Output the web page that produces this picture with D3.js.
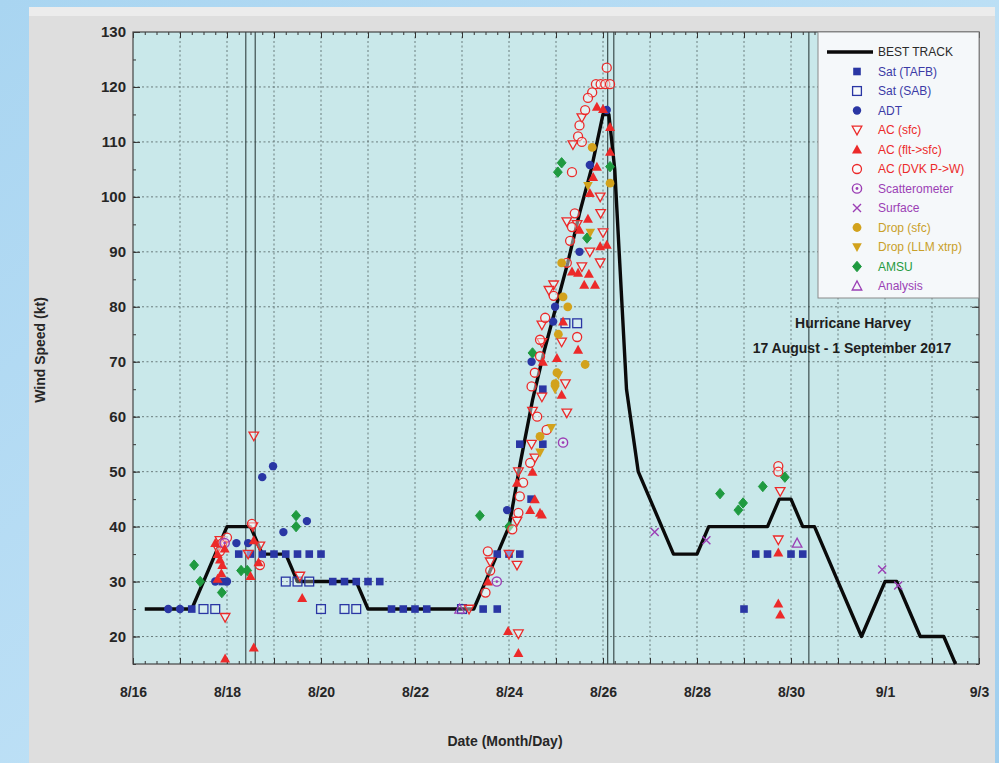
<!DOCTYPE html>
<html><head><meta charset="utf-8">
<script src="https://cdn.jsdelivr.net/npm/d3@7/dist/d3.min.js"></script>
<style>
body{margin:0;background:#fff;}
svg{display:block}
text{font-family:"Liberation Sans",Arial,sans-serif;}
</style></head><body>
<svg id="c" width="999" height="763"></svg>
<script>
// ---------------- DATA ----------------
// x values are days after 16 Aug 2017 00 UTC
const xTickDays   = [0,2,4,6,8,10,12,14,16,18];
const xTickLabels = ["8/16","8/18","8/20","8/22","8/24","8/26","8/28","8/30","9/1","9/3"];
const yTickValues = [20,30,40,50,60,70,80,90,100,110,120,130];

const btDay = [0.25,0.5,0.75,1.0,1.25,1.5,1.75,2.0,2.25,2.5,2.75,3.0,3.25,3.5,3.75,4.0,4.25,4.5,4.75,5.0,
  5.25,5.5,5.75,6.0,6.25,6.5,6.75,7.0,7.25,7.5,7.75,8.0,8.25,8.5,8.75,9.0,9.25,9.5,9.75,10.0,10.125,10.25,
  10.5,10.75,11.0,11.25,11.5,11.75,12.0,12.25,12.5,12.75,13.0,13.25,13.5,13.75,14.0,14.25,14.5,14.75,15.0,
  15.25,15.5,15.75,16.0,16.25,16.5,16.75,17.0,17.25,17.5];
const btKt  = [25,25,25,25,25,30,35,40,40,40,35,35,35,30,30,30,30,30,30,25,
  25,25,25,25,25,25,25,25,25,30,35,40,52,63,72,80,88,97,105,115,115,105,
  65,50,45,40,35,35,35,40,40,40,40,40,40,45,45,40,40,35,30,
  25,20,25,30,30,25,20,20,20,15];

const landfallDays = [2.4,2.6,10.1,10.23,14.38];

const satTAFB = [[1.25,25],[1.9,30],[2.25,35],[2.5,35],[2.75,35],[3.0,35],[3.25,35],[3.5,35],[3.75,35],[4.0,35],
  [4.25,30],[4.5,30],[4.75,30],[5.0,30],[5.25,30],[5.5,25],[5.75,25],[6.0,25],[6.25,25],[7.45,25],[7.75,25],
  [7.75,35],[8.0,35],[8.23,35],[8.47,45],[8.23,55],[8.72,55],[8.72,65],[13.0,25],[13.25,35],[13.5,35],[14.0,35],[14.25,35]];
const satSAB = [[1.5,25],[1.75,25],[3.25,30],[3.5,30],[3.75,30],[4.0,25],[4.5,25],[4.75,25],[7.0,25],[9.2,77],[9.45,77]];
const adt = [[0.75,25],[1.0,25],[1.75,30],[2.0,30],[2.2,37],[2.45,37],[2.75,49],[2.98,51],[3.2,39],[3.7,41],
  [7.96,43],[8.48,70],[8.94,77.3],[8.98,80],[9.5,90],[9.72,105.8],[10.08,115.8]];
const acSfc = [[2.57,56.5],[1.96,23.5],[1.85,37.5],[1.8,36],[2.45,35],[2.7,36.5],[3.55,31],[2.55,40],
  [7.15,25],[7.6,33.6],[8.0,35],[8.17,33],[8.17,41],[8.2,50],[8.2,20.5],[8.48,55],[8.55,52.5],[8.5,61],[9.23,60.7],
  [8.7,63.6],[9.2,66],[8.7,73.5],[9.12,73.6],[8.7,76.7],[8.95,84],[9.55,87.3],[9.72,90],[9.94,88],[10.0,93.5],
  [9.23,95.5],[9.45,95],[9.94,100],[9.55,114.4],[9.36,109.5],[8.85,83],[9.95,97],[13.77,46.4],[13.73,37.6]];
const acFlt = [[1.75,37],[1.8,35],[1.85,34],[1.9,33],[1.88,31.5],[1.8,30.5],[1.95,36],[2.5,31],[2.57,37.5],[2.67,33.5],
  [3.6,27],[2.57,18],[1.96,16],[7.55,30],[7.98,21],[8.2,17],[8.45,43],[8.7,42.2],[8.66,42.5],[8.55,45],[8.17,48],
  [8.5,50],[9.12,64],[8.72,70],[9.02,70.7],[9.47,72.2],[9.15,77.3],[9.34,86.4],[9.47,86.2],[9.83,84],[9.94,91],
  [10.08,91.3],[9.5,94],[9.68,96],[9.72,100.7],[9.87,116.4],[10.0,116],[10.15,112.7],[10.15,108.2],[9.87,105.5],
  [9.79,103.6],[9.6,84],[9.7,86],[13.73,26],[13.77,24],[13.73,35.3]];
const acDvk = [[1.9,37],[1.85,35.5],[2.7,33],[2.53,40.5],[2.0,38],[7.55,35.5],[8.07,39.5],[8.2,42.5],[8.23,45.5],
  [8.45,51.6],[8.8,57.6],[8.48,65.5],[8.55,68],[8.66,74],[9.45,74.5],[8.77,78],[8.66,71],[9.23,88],[9.34,94.5],
  [9.4,97],[10.08,123.5],[9.85,120.5],[9.95,120.5],[10.05,120.5],[10.15,120.5],[9.77,119],[9.68,118],[9.62,115.8],
  [9.47,111],[9.34,104.5],[9.5,113],[9.55,110],[9.3,92],[8.95,82],[8.6,60],[8.3,48],[7.5,28],[7.6,32],[13.73,51],[13.73,50]];
const scatterometer = [[1.95,37],[7.74,30],[9.15,55.3]];
const surface = [[11.1,39],[12.2,37.5],[15.94,32.2],[16.28,29.3]];
const dropSfc = [[8.66,56.4],[8.98,66],[9.02,68],[9.62,69.5],[9.05,75],[9.15,81.8],[9.12,88],[9.77,109],[10.15,102.5],[9.25,80]];
const dropLlm = [[8.66,53.5],[8.98,65],[9.68,102],[9.05,67.6],[9.73,93.5],[8.9,58]];
const amsu = [[1.3,33],[1.43,30],[1.89,28],[2.3,32],[2.43,32],[3.47,42],[3.47,40],[7.38,42],[8.0,40],[8.5,71.6],
  [9.66,92.5],[9.12,106.2],[9.04,104.5],[10.15,105.5],[12.49,46],[12.88,43],[12.98,44.3],[13.4,47.3],[13.87,49]];
const analysis = [[6.95,25],[14.13,37]];

const legendNames = ["BEST TRACK","Sat (TAFB)","Sat (SAB)","ADT","AC (sfc)","AC (flt->sfc)","AC (DVK P->W)",
  "Scatterometer","Surface","Drop (sfc)","Drop (LLM xtrp)","AMSU","Analysis"];

// ---------------- DRAW ----------------
const svg = d3.select("#c");
const W=999,H=763;
const L=133,R=979,T=32,B=664;
const x = d3.scaleLinear().domain([0,18]).range([L,R]);
const y = d3.scaleLinear().domain([15,130]).range([B,T]);

const defs = svg.append("defs");
const g1 = defs.append("linearGradient").attr("id","bg").attr("x1",0).attr("y1",0).attr("x2",1).attr("y2",1);
g1.append("stop").attr("offset","0%").attr("stop-color","#a9d5f1");
g1.append("stop").attr("offset","60%").attr("stop-color","#bfe1f6");
g1.append("stop").attr("offset","100%").attr("stop-color","#9dcdee");
svg.append("rect").attr("width",W).attr("height",H).attr("fill","url(#bg)");
svg.append("rect").attr("x",29).attr("y",7).attr("width",966).attr("height",756).attr("fill","#dedede");
svg.append("rect").attr("x",29).attr("y",7).attr("width",966).attr("height",9).attr("fill","#ececec");

// plot bg
svg.append("rect").attr("x",L).attr("y",T).attr("width",R-L).attr("height",B-T).attr("fill","#c9e8ea");

const C = {blue:"#2a36a4", red:"#ec2a2a", purple:"#9b3fb5", gold:"#d2a21c", green:"#1f9a40"};

// grid
const grid = svg.append("g").attr("stroke","#3d4a4a").attr("stroke-width",0.9).attr("stroke-dasharray","2,2.5").attr("opacity",0.75);
d3.range(1,18).forEach(d=>grid.append("line").attr("x1",x(d)).attr("x2",x(d)).attr("y1",T).attr("y2",B));
d3.range(20,130,10).forEach(v=>grid.append("line").attr("x1",L).attr("x2",R).attr("y1",y(v)).attr("y2",y(v)));

// landfall lines
landfallDays.forEach(d=>svg.append("line").attr("x1",x(d)).attr("x2",x(d)).attr("y1",T).attr("y2",B)
  .attr("stroke","#2f3f3f").attr("stroke-width",1.1));

// axes
function styleAxis(g){ g.select(".domain").remove(); g.selectAll("line").attr("stroke","#333"); }
const minorDays = d3.range(0,18.01,0.25);
const dayTicks = d3.range(0,19,1);
svg.append("g").attr("transform",`translate(0,${B})`).call(d3.axisBottom(x).tickValues(minorDays).tickSize(-3).tickFormat("")).call(styleAxis);
svg.append("g").attr("transform",`translate(0,${B})`).call(d3.axisBottom(x).tickValues(dayTicks).tickSize(-6).tickFormat("")).call(styleAxis);
svg.append("g").attr("transform",`translate(0,${T})`).call(d3.axisTop(x).tickValues(minorDays).tickSize(-3).tickFormat("")).call(styleAxis);
svg.append("g").attr("transform",`translate(0,${T})`).call(d3.axisTop(x).tickValues(dayTicks).tickSize(-6).tickFormat("")).call(styleAxis);
const xa = svg.append("g").attr("transform",`translate(0,${B})`)
  .call(d3.axisBottom(x).tickValues(xTickDays).tickSize(0).tickPadding(23).tickFormat((d,i)=>xTickLabels[i]));
xa.select(".domain").remove();
xa.selectAll("text").attr("font-size",14).attr("font-weight","bold").attr("fill","#262626")
  .attr("font-family","'Liberation Sans Narrow','Liberation Sans',Arial,sans-serif");

const minorKt = d3.range(15,131,5);
svg.append("g").attr("transform",`translate(${L},0)`).call(d3.axisLeft(y).tickValues(minorKt).tickSize(-3).tickFormat("")).call(styleAxis);
svg.append("g").attr("transform",`translate(${R},0)`).call(d3.axisRight(y).tickValues(minorKt).tickSize(-3).tickFormat("")).call(styleAxis);
svg.append("g").attr("transform",`translate(${R},0)`).call(d3.axisRight(y).tickValues(yTickValues).tickSize(-7).tickFormat("")).call(styleAxis);
const ya = svg.append("g").attr("transform",`translate(${L},0)`)
  .call(d3.axisLeft(y).tickValues(yTickValues).tickSize(-7).tickPadding(7));
ya.select(".domain").remove();
ya.selectAll("line").attr("stroke","#333");
ya.selectAll("text").attr("font-size",15).attr("font-weight","bold").attr("fill","#262626")
  .attr("font-family","'Liberation Sans Narrow','Liberation Sans',Arial,sans-serif");

// frame
svg.append("rect").attr("x",L).attr("y",T).attr("width",R-L).attr("height",B-T).attr("fill","none").attr("stroke","#444").attr("stroke-width",1.2);

// axis titles
svg.append("text").attr("x",505).attr("y",746).attr("text-anchor","middle").attr("font-size",14).attr("font-weight","bold").attr("fill","#262626").text("Date (Month/Day)");
svg.append("text").attr("transform","translate(45,350) rotate(-90)").attr("text-anchor","middle").attr("font-size",14).attr("font-weight","bold").attr("fill","#262626").text("Wind Speed (kt)");

// best track line
const btData = btDay.map((d,i)=>[d,btKt[i]]);
svg.append("path").datum(btData).attr("fill","none").attr("stroke","#0a0a0a").attr("stroke-width",3.4)
  .attr("stroke-linejoin","round")
  .attr("d",d3.line().x(d=>x(d[0])).y(d=>y(d[1])));

// markers
function drawMarker(g,type,cx,cy){
  switch(type){
    case "tafb": g.append("rect").attr("x",cx-3.8).attr("y",cy-3.8).attr("width",7.6).attr("height",7.6).attr("fill",C.blue); break;
    case "sab": g.append("rect").attr("x",cx-4.4).attr("y",cy-4.4).attr("width",8.8).attr("height",8.8).attr("fill","rgba(255,255,255,0.25)").attr("stroke",C.blue).attr("stroke-width",1.3); break;
    case "adt": g.append("circle").attr("cx",cx).attr("cy",cy).attr("r",4.2).attr("fill",C.blue); break;
    case "acsfc": g.append("path").attr("d",`M${cx-4.8},${cy-3.8}L${cx+4.8},${cy-3.8}L${cx},${cy+4.8}Z`).attr("fill","rgba(255,255,255,0.45)").attr("stroke",C.red).attr("stroke-width",1.3); break;
    case "acflt": g.append("path").attr("d",`M${cx-5},${cy+4}L${cx+5},${cy+4}L${cx},${cy-5}Z`).attr("fill",C.red); break;
    case "dvk": g.append("circle").attr("cx",cx).attr("cy",cy).attr("r",4.5).attr("fill","rgba(255,255,255,0.45)").attr("stroke",C.red).attr("stroke-width",1.3); break;
    case "scat": g.append("circle").attr("cx",cx).attr("cy",cy).attr("r",4.6).attr("fill","rgba(255,255,255,0.3)").attr("stroke",C.purple).attr("stroke-width",1.4);
                 g.append("circle").attr("cx",cx).attr("cy",cy).attr("r",1.4).attr("fill",C.purple); break;
    case "sfc": g.append("path").attr("d",`M${cx-4},${cy-4}L${cx+4},${cy+4}M${cx-4},${cy+4}L${cx+4},${cy-4}`).attr("stroke",C.purple).attr("stroke-width",1.4); break;
    case "dsfc": g.append("circle").attr("cx",cx).attr("cy",cy).attr("r",4.4).attr("fill",C.gold); break;
    case "dllm": g.append("path").attr("d",`M${cx-4.8},${cy-3.8}L${cx+4.8},${cy-3.8}L${cx},${cy+5}Z`).attr("fill",C.gold); break;
    case "amsu": g.append("path").attr("d",`M${cx},${cy-5.2}L${cx+4.4},${cy}L${cx},${cy+5.2}L${cx-4.4},${cy}Z`).attr("fill",C.green).attr("stroke",C.green).attr("stroke-width",1).attr("stroke-linejoin","round"); break;
    case "ana": g.append("path").attr("d",`M${cx-4.8},${cy+4}L${cx+4.8},${cy+4}L${cx},${cy-5}Z`).attr("fill","none").attr("stroke",C.purple).attr("stroke-width",1.3); break;
  }
}
const series = [
  ["tafb",satTAFB],["sab",satSAB],["adt",adt],["amsu",amsu],["acsfc",acSfc],["dvk",acDvk],
  ["scat",scatterometer],["sfc",surface],["dsfc",dropSfc],["dllm",dropLlm],["acflt",acFlt],["ana",analysis]
];
const mk = svg.append("g");
series.forEach(([t,arr])=>arr.forEach(p=>drawMarker(mk,t,x(p[0]),y(p[1]))));

// legend
const lg = svg.append("g");
lg.append("rect").attr("x",818).attr("y",T).attr("width",R-818).attr("height",266).attr("fill","#f5f8fa").attr("stroke","#8a8a8a").attr("stroke-width",1);
const legTypes = [null,"tafb","sab","adt","acsfc","acflt","dvk","scat","sfc","dsfc","dllm","amsu","ana"];
const legColors = ["#2a2a2a","#3b3ba6","#3b3ba6","#3b3ba6",C.red,C.red,C.red,C.purple,C.purple,"#c9a02a","#c9a02a",C.green,C.purple];
legendNames.forEach((nm,i)=>{
  const yy = 52 + i*19.5;
  if(i===0){
    lg.append("line").attr("x1",827).attr("x2",873).attr("y1",yy).attr("y2",yy).attr("stroke","#0a0a0a").attr("stroke-width",3.4);
  } else {
    drawMarker(lg,legTypes[i],857,yy);
  }
  lg.append("text").attr("x",878).attr("y",yy+4).attr("font-size",12).attr("fill",legColors[i])
    .attr("font-family","'Liberation Sans Narrow','Liberation Sans',Arial,sans-serif").text(nm);
});

// storm title
svg.append("text").attr("x",853).attr("y",328).attr("text-anchor","middle").attr("font-size",14).attr("font-weight","bold").attr("fill","#1e1e1e").text("Hurricane Harvey");
svg.append("text").attr("x",852).attr("y",353).attr("text-anchor","middle").attr("font-size",14).attr("font-weight","bold").attr("fill","#1e1e1e").text("17 August - 1 September 2017");
</script>
</body></html>
